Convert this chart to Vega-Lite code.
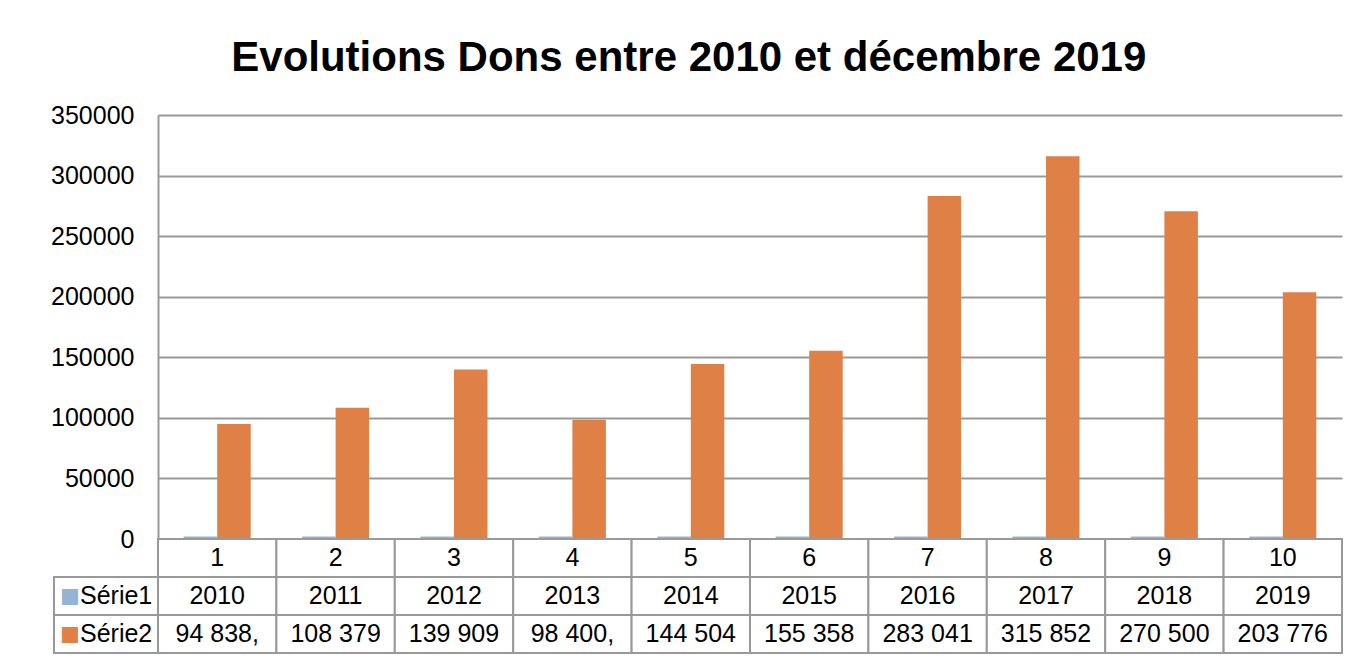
{
  "$schema": "https://vega.github.io/schema/vega-lite/v6.json",
  "padding": {"left": 50, "top": 37, "right": 8, "bottom": 4},
  "background": "white",
  "title": {
    "text": "Evolutions Dons entre 2010 et décembre 2019",
    "font": "Liberation Sans",
    "fontSize": 42,
    "fontWeight": "bold",
    "color": "#000000",
    "anchor": "middle",
    "offset": 23,
    "dx": -8
  },
  "config": {
    "view": {"stroke": null},
    "font": "Liberation Sans",
    "text": {"font": "Liberation Sans", "fontSize": 25, "color": "#000000"},
    "axis": {"labelFont": "Liberation Sans"}
  },
  "datasets": {
    "rows": [
      {"cat": 1, "serie": "Série1", "value": 2010, "label": "2010"},
      {"cat": 1, "serie": "Série2", "value": 94838, "label": "94 838,"},
      {"cat": 2, "serie": "Série1", "value": 2011, "label": "2011"},
      {"cat": 2, "serie": "Série2", "value": 108379, "label": "108 379"},
      {"cat": 3, "serie": "Série1", "value": 2012, "label": "2012"},
      {"cat": 3, "serie": "Série2", "value": 139909, "label": "139 909"},
      {"cat": 4, "serie": "Série1", "value": 2013, "label": "2013"},
      {"cat": 4, "serie": "Série2", "value": 98400, "label": "98 400,"},
      {"cat": 5, "serie": "Série1", "value": 2014, "label": "2014"},
      {"cat": 5, "serie": "Série2", "value": 144504, "label": "144 504"},
      {"cat": 6, "serie": "Série1", "value": 2015, "label": "2015"},
      {"cat": 6, "serie": "Série2", "value": 155358, "label": "155 358"},
      {"cat": 7, "serie": "Série1", "value": 2016, "label": "2016"},
      {"cat": 7, "serie": "Série2", "value": 283041, "label": "283 041"},
      {"cat": 8, "serie": "Série1", "value": 2017, "label": "2017"},
      {"cat": 8, "serie": "Série2", "value": 315852, "label": "315 852"},
      {"cat": 9, "serie": "Série1", "value": 2018, "label": "2018"},
      {"cat": 9, "serie": "Série2", "value": 270500, "label": "270 500"},
      {"cat": 10, "serie": "Série1", "value": 2019, "label": "2019"},
      {"cat": 10, "serie": "Série2", "value": 203776, "label": "203 776"}
    ]
  },
  "columns": 2,
  "bounds": "flush",
  "spacing": 0,
  "concat": [
    {
      "width": 104,
      "height": 424,
      "data": {"values": [{"t": ""}]},
      "mark": {"type": "text"},
      "encoding": {"text": {"field": "t", "type": "nominal"}}
    },
    {
      "width": 1184,
      "height": 424,
      "data": {"name": "rows"},
      "mark": {"type": "bar"},
      "encoding": {
        "x": {
          "field": "cat",
          "type": "ordinal",
          "scale": {"paddingInner": 0.434, "paddingOuter": 0.217},
          "axis": null
        },
        "xOffset": {
          "field": "serie",
          "type": "nominal",
          "scale": {"domain": ["Série1", "Série2"], "paddingInner": 0, "paddingOuter": 0}
        },
        "y": {
          "field": "value",
          "type": "quantitative",
          "scale": {"domain": [0, 350000], "nice": false, "zero": true},
          "axis": {
            "title": null,
            "values": [0, 50000, 100000, 150000, 200000, 250000, 300000, 350000],
            "format": "d",
            "ticks": false,
            "labelPadding": 24,
            "labelFontSize": 25,
            "labelColor": "#000000",
            "domainColor": "#999999",
            "domainWidth": 2,
            "gridColor": "#999999",
            "gridWidth": 2
          }
        },
        "color": {
          "field": "serie",
          "type": "nominal",
          "scale": {"domain": ["Série1", "Série2"], "range": ["#95B3D7", "#DF8047"]},
          "legend": null
        }
      }
    },
    {
      "width": 104,
      "height": 114,
      "data": {"name": "rows"},
      "transform": [{"filter": "datum.cat === 1"}],
      "encoding": {
        "y": {
          "field": "serie",
          "type": "nominal",
          "scale": {"domain": ["k", "Série1", "Série2"], "paddingInner": 0, "paddingOuter": 0},
          "axis": null
        }
      },
      "layer": [
        {"mark": {"type": "rect", "fill": "white", "stroke": "#999999", "strokeWidth": 2}},
        {
          "mark": {"type": "text", "text": "■", "fontSize": 33, "dx": -36, "dy": 1},
          "encoding": {
            "color": {
              "field": "serie",
              "type": "nominal",
              "scale": {"domain": ["Série1", "Série2"], "range": ["#95B3D7", "#DF8047"]},
              "legend": null
            }
          }
        },
        {
          "mark": {"type": "text", "align": "left", "dx": -26},
          "encoding": {"text": {"field": "serie", "type": "nominal"}}
        }
      ]
    },
    {
      "width": 1184,
      "height": 114,
      "data": {"name": "rows"},
      "layer": [
        {
          "transform": [{"filter": "datum.serie === 'Série1'"}],
          "mark": {"type": "rect", "fill": "white", "stroke": "#999999", "strokeWidth": 2},
          "encoding": {
            "x": {"field": "cat", "type": "ordinal", "scale": {"paddingInner": 0, "paddingOuter": 0}, "axis": null},
            "y": {"datum": "k", "type": "nominal", "scale": {"domain": ["k", "Série1", "Série2"], "paddingInner": 0, "paddingOuter": 0}, "axis": null}
          }
        },
        {
          "mark": {"type": "rect", "fill": "white", "stroke": "#999999", "strokeWidth": 2},
          "encoding": {
            "x": {"field": "cat", "type": "ordinal", "scale": {"paddingInner": 0, "paddingOuter": 0}, "axis": null},
            "y": {"field": "serie", "type": "nominal", "scale": {"domain": ["k", "Série1", "Série2"], "paddingInner": 0, "paddingOuter": 0}, "axis": null}
          }
        },
        {
          "transform": [{"filter": "datum.serie === 'Série1'"}],
          "mark": {"type": "text"},
          "encoding": {
            "x": {"field": "cat", "type": "ordinal", "scale": {"paddingInner": 0, "paddingOuter": 0}, "axis": null},
            "y": {"datum": "k", "type": "nominal", "scale": {"domain": ["k", "Série1", "Série2"], "paddingInner": 0, "paddingOuter": 0}, "axis": null},
            "text": {"field": "cat", "type": "ordinal"}
          }
        },
        {
          "mark": {"type": "text"},
          "encoding": {
            "x": {"field": "cat", "type": "ordinal", "scale": {"paddingInner": 0, "paddingOuter": 0}, "axis": null},
            "y": {"field": "serie", "type": "nominal", "scale": {"domain": ["k", "Série1", "Série2"], "paddingInner": 0, "paddingOuter": 0}, "axis": null},
            "text": {"field": "label", "type": "nominal"}
          }
        }
      ]
    }
  ]
}
